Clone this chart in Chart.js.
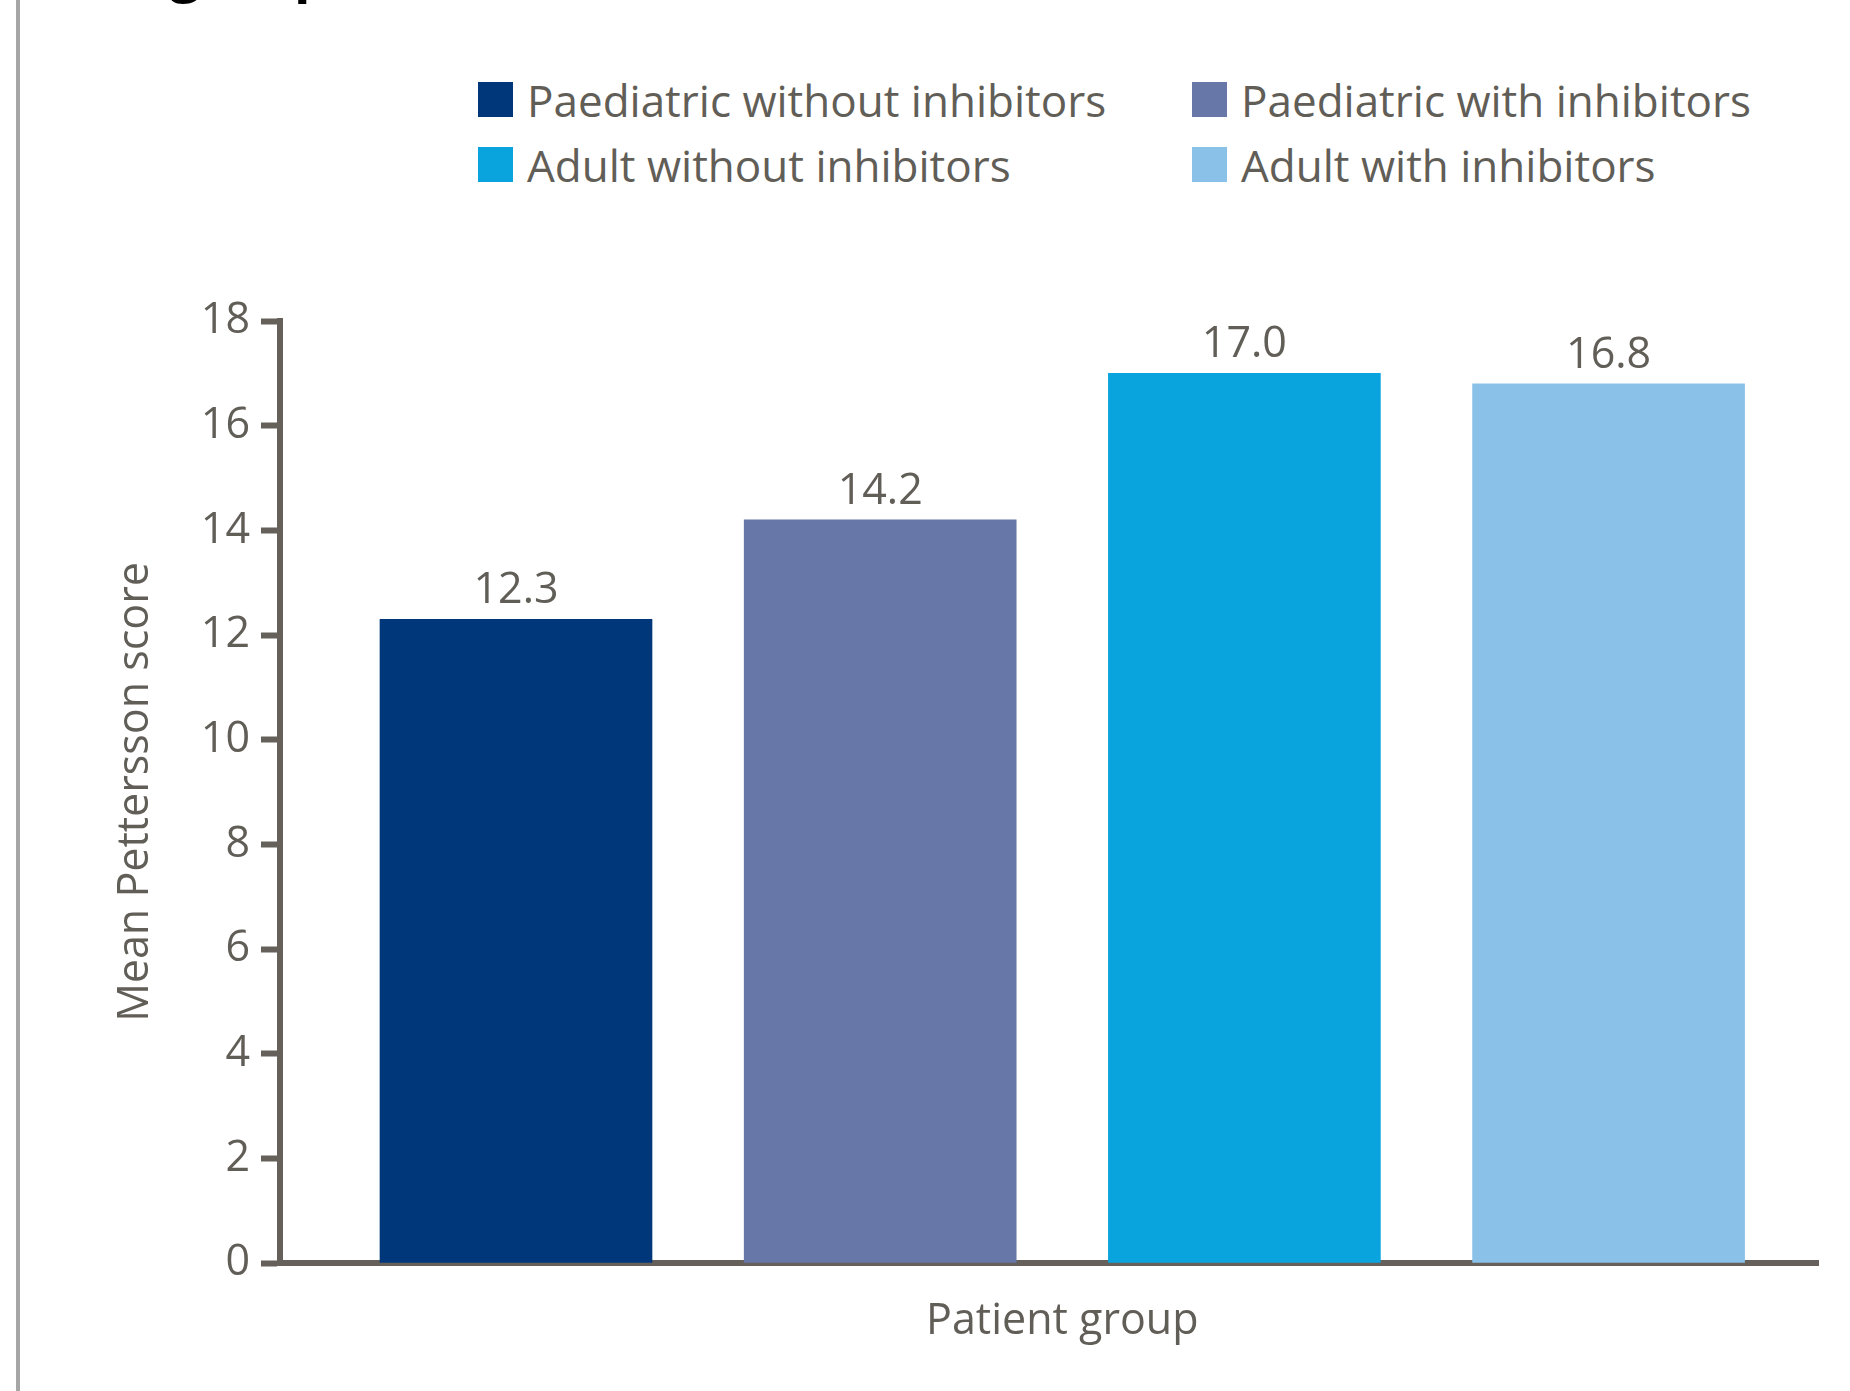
<!DOCTYPE html>
<html lang="en">
<head>
<meta charset="utf-8">
<title>Mean Pettersson score by patient group</title>
<script src="https://cdn.jsdelivr.net/npm/chart.js@4.4.1/dist/chart.umd.min.js"></script>
<style>
  html, body { margin: 0; padding: 0; background: #fff; width: 1850px; height: 1391px; overflow: hidden; }
  #page { position: relative; width: 1850px; height: 1391px; overflow: hidden; }
  #rule { position: absolute; left: 16px; top: 0; width: 4px; height: 1391px; background: #a6a6a6; }
  #heading { position: absolute; left: 170px; top: -58px; margin: 0; font: 700 54px/56px "Open Sans", sans-serif; color: #000; white-space: nowrap; }
  #legend { position: absolute; left: 478px; top: 74px; display: grid; grid-template-columns: 714px auto; row-gap: 14px; }
  .item { display: flex; align-items: center; height: 51px; font: 400 44px "Open Sans", sans-serif; color: #615d57; white-space: nowrap; }
  .swatch { width: 35px; height: 35px; margin-right: 14px; flex: none; }
  canvas { position: absolute; left: 0; top: 0; }
</style>
</head>
<body>
<div id="page">
  <div id="rule"></div>
  <h2 id="heading">group</h2>
  <div id="legend"></div>
  <canvas id="chart" width="1850" height="1391"></canvas>
</div>
<script>
// Patient groups and their mean Pettersson scores
const groups = [
  'Paediatric without inhibitors',
  'Paediatric with inhibitors',
  'Adult without inhibitors',
  'Adult with inhibitors'
];
const meanScores = [12.3, 14.2, 17.0, 16.8];
const barColours = ['#00377a', '#6677a8', '#09a4de', '#8ac1e9'];
const yTickValues = [0, 2, 4, 6, 8, 10, 12, 14, 16, 18];

const axisGrey = '#65605a';
const textGrey = '#615d57';
const textFont = { family: '"Open Sans", sans-serif', size: 43, weight: '400' };
const tickFont = { family: '"Open Sans", sans-serif', size: 43, weight: '400' };

// One dataset per group so each bar gets its own legend entry
const datasets = groups.map((name, i) => ({
  label: name,
  data: [{ x: i, y: meanScores[i] }],
  backgroundColor: barColours[i],
  barThickness: 272,
  grouped: false
}));

// Value printed above each bar, taken from the bar's own data point
const barValueLabels = {
  id: 'barValueLabels',
  afterDatasetsDraw(chart) {
    const { ctx } = chart;
    ctx.save();
    ctx.font = '400 43px "Open Sans", sans-serif';
    ctx.fillStyle = textGrey;
    ctx.textAlign = 'center';
    ctx.textBaseline = 'alphabetic';
    chart.data.datasets.forEach((ds, i) => {
      chart.getDatasetMeta(i).data.forEach((bar, j) => {
        ctx.fillText(ds.data[j].y.toFixed(1), bar.x, bar.y - 16);
      });
    });
    ctx.restore();
  }
};

const chart = new Chart(document.getElementById('chart'), {
  type: 'bar',
  data: { datasets },
  plugins: [barValueLabels],
  options: {
    responsive: false,
    animation: false,
    layout: { padding: { top: 321, right: 32, bottom: 0, left: 0 } },
    plugins: { legend: { display: false }, tooltip: { enabled: false } },
    scales: {
      x: {
        type: 'linear',
        min: -0.648,
        max: 3.575,
        offset: false,
        z: 1,
        ticks: { display: false },
        grid: { display: false, offset: false },
        border: { display: true, color: axisGrey, width: 6 },
        title: {
          display: true,
          text: 'Patient group',
          color: textGrey,
          font: textFont,
          padding: { top: 0, bottom: 43 }
        },
        afterFit(scale) { scale.height = 128; }
      },
      y: {
        min: 0,
        max: 18,
        z: 1,
        afterBuildTicks(scale) { scale.ticks = yTickValues.map(v => ({ value: v })); },
        ticks: { color: textGrey, font: tickFont, padding: 11 },
        grid: {
          display: true,
          drawOnChartArea: false,
          drawTicks: true,
          tickLength: 19,
          tickWidth: 6,
          tickColor: axisGrey
        },
        border: { display: true, color: axisGrey, width: 6 },
        title: {
          display: true,
          text: 'Mean Pettersson score',
          color: textGrey,
          font: textFont,
          padding: { top: 110, bottom: 0 }
        },
        afterFit(scale) { scale.width = 280; }
      }
    }
  }
});

// Centre the x-axis title under the span of the groups rather than the whole axis line
const xScale = chart.scales.x;
const baseDrawTitle = xScale.drawTitle;
xScale.drawTitle = function () {
  const left = this.left, right = this.right;
  this.left = this.getPixelForValue(-0.5);
  this.right = this.getPixelForValue(groups.length - 0.5);
  baseDrawTitle.call(this);
  this.left = left;
  this.right = right;
};
chart.draw();

// Two-column legend built from the chart's datasets
const legend = document.getElementById('legend');
chart.data.datasets.forEach(ds => {
  const item = document.createElement('div');
  item.className = 'item';
  const sw = document.createElement('span');
  sw.className = 'swatch';
  sw.style.background = ds.backgroundColor;
  item.appendChild(sw);
  item.appendChild(document.createTextNode(ds.label));
  legend.appendChild(item);
});
</script>
</body>
</html>
